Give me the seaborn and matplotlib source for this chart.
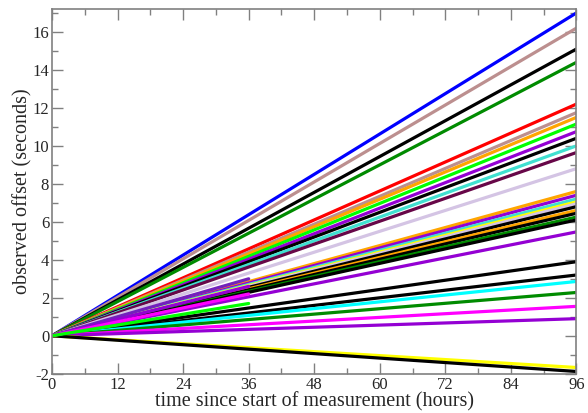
import matplotlib
matplotlib.use("Agg")
import matplotlib.pyplot as plt
from matplotlib.ticker import MultipleLocator
import pandas as pd
import seaborn as sns

# grace-style colours
BLACK = "#000000"
RED = "#ff0000"
LIME = "#00ff00"
BLUE = "#0000ff"
YELLOW = "#ffff00"
BROWN = "#bc8f8f"
GREY = "#d4c4e4"
VIOLET = "#9400d3"
CYAN = "#00ffff"
MAGENTA = "#ff00ff"
ORANGE = "#ffa500"
INDIGO = "#7221bc"
MAROON = "#670748"
TURQ = "#40e0d0"
GREEN4 = "#008b00"

# every run starts at 0 h with 0 s offset; these are the last readings
series_colors = [
    BLUE, BROWN, BLACK, GREEN4, RED, BROWN, ORANGE, LIME, VIOLET, BLACK,
    TURQ, MAROON, GREY, ORANGE, VIOLET, TURQ, YELLOW, GREY, BLACK, ORANGE,
    BLACK, GREEN4, BLACK, VIOLET, BLACK, BLACK, CYAN, GREEN4, MAGENTA, VIOLET,
    YELLOW, BLACK,
    INDIGO, VIOLET, MAGENTA, LIME,
]
end_hours = [
    96, 96, 96, 96, 96, 96, 96, 96, 96, 96,
    96, 96, 96, 96, 96, 96, 96, 96, 96, 96,
    96, 96, 96, 96, 96, 96, 96, 96, 96, 96,
    96, 96,
    36, 36, 36, 36,
]
end_offsets = [
    17.0, 16.2, 15.1, 14.4, 12.2, 11.75, 11.5, 11.15, 10.75, 10.4,
    10.0, 9.65, 8.8, 7.6, 7.4, 7.2, 7.05, 6.95, 6.8, 6.6,
    6.45, 6.25, 6.1, 5.47, 3.9, 3.2, 2.86, 2.28, 1.55, 0.9,
    -1.67, -1.88,
    3.0, 2.6, 2.2, 1.7,
]

rows = []
for i, (h, o) in enumerate(zip(end_hours, end_offsets)):
    rows.append({"run": i, "hours": 0.0, "offset": 0.0})
    rows.append({"run": i, "hours": h, "offset": o})
df = pd.DataFrame(rows)

sns.set_style("ticks")
plt.rcParams["font.family"] = ["Liberation Serif", "DejaVu Serif"]
plt.rcParams["axes.unicode_minus"] = False

fig = plt.figure(figsize=(5.88, 4.13), dpi=100)
ax = fig.add_axes([0.0884, 0.095, 0.892, 0.883])

sns.lineplot(data=df, x="hours", y="offset", hue="run", palette=series_colors,
             estimator=None, sort=False, legend=False, linewidth=2.3, ax=ax)

ax.set_xlim(0, 96)
ax.set_ylim(-2, 17.2)
ax.xaxis.set_major_locator(MultipleLocator(12))
ax.xaxis.set_minor_locator(MultipleLocator(6))
ax.yaxis.set_major_locator(MultipleLocator(2))
ax.yaxis.set_minor_locator(MultipleLocator(1))
ax.tick_params(which="both", direction="in", top=True, right=True,
               color="#808080", labelsize=12, pad=2)
ax.tick_params(which="major", length=8, width=1)
ax.tick_params(which="minor", length=4, width=1)
for s in ax.spines.values():
    s.set_color("#808080")
    s.set_linewidth(1.2)

ax.set_xlabel("time since start of measurement (hours)", fontsize=14.5, labelpad=0)
ax.set_ylabel("observed offset (seconds)", fontsize=14.5, labelpad=0)

fig.savefig("out.png", dpi=100)
